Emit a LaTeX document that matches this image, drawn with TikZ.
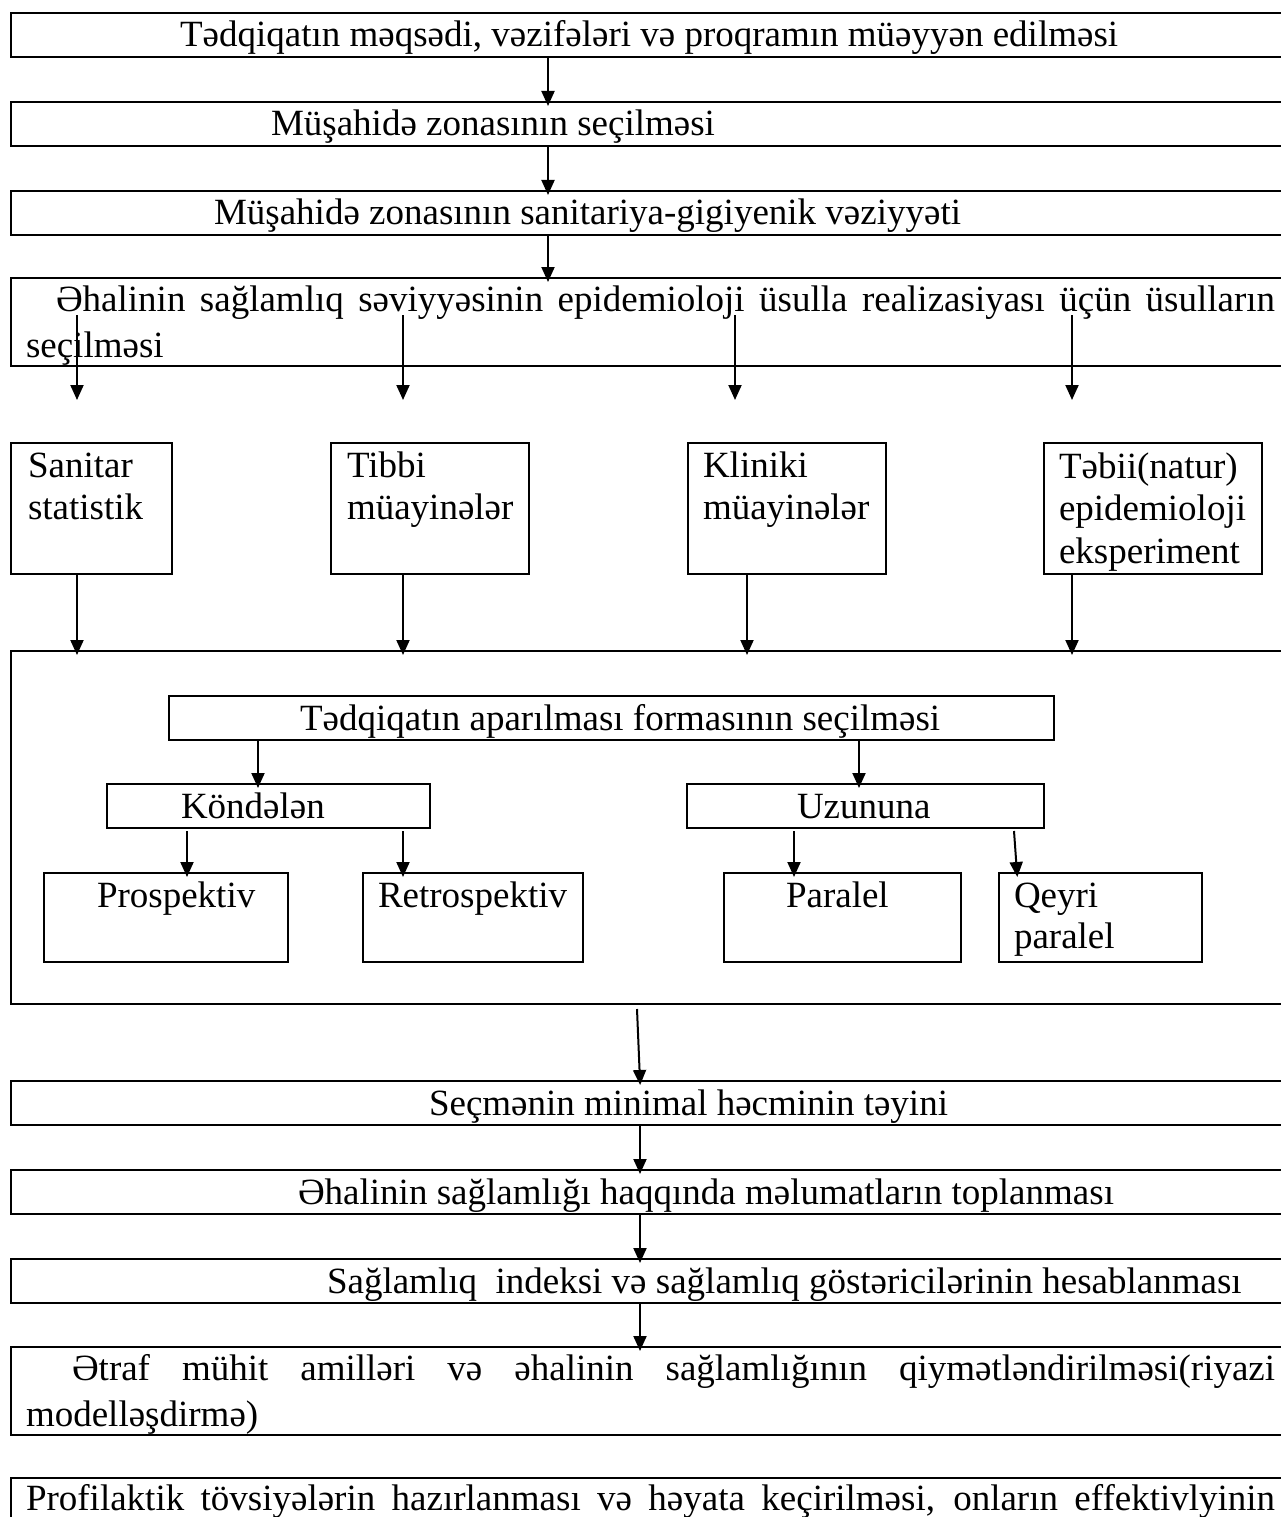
\documentclass[tikz,border=0pt]{standalone}
\usepackage{fontspec}
\setmainfont{Liberation Serif}
\usetikzlibrary{arrows.meta}
\newcommand\txtlines[2][42.5]{\parbox[t]{1260pt}{\fontsize{37}{#1}\selectfont\raggedright #2}}
\begin{document}
\begin{tikzpicture}[x=1pt,y=-1pt, font=\fontsize{37}{42.5}\selectfont,
  box/.style={draw, line width=2.2pt, anchor=north west, inner sep=0pt, outer sep=0pt},
  wide/.style={box, minimum width=1300pt, minimum height=44pt},
  txt/.style={anchor=base west, inner sep=0pt, outer sep=0pt},
  arr/.style={line width=2pt, -{Triangle[length=15pt,width=13pt]}},
  over/.style={shorten >=-4pt}]
\useasboundingbox (0,0) rectangle (1281,1517);
\clip (0,0) rectangle (1281,1517);
\fill[white] (0,0) rectangle (1281,1517);

% x positions of connectors
\coordinate (xm) at (548,0);
\coordinate (c1) at (77,0);
\coordinate (c2) at (403,0);
\coordinate (c3) at (735,0);
\coordinate (c3b) at (747,0);
\coordinate (c4) at (1072,0);
\coordinate (ck) at (258,0);
\coordinate (cu) at (859,0);
\coordinate (cp1) at (187,0);
\coordinate (cp2) at (403,0);
\coordinate (cp3) at (794,0);
\coordinate (cq1) at (1014,0);
\coordinate (cq2) at (1017,0);
\coordinate (cb1) at (637,0);
\coordinate (cb2) at (640,0);

% top chain
\node[wide] (b1) at (11,13) {};
\node[txt] (t1) at (180,47) {Tədqiqatın məqsədi, vəzifələri və proqramın müəyyən edilməsi};
\node[wide] (b2) at (11,102) {};
\node[txt] (t2) at (271,136) {Müşahidə zonasının seçilməsi};
\node[wide] (b3) at (11,191) {};
\node[txt] (t3) at (214,225) {Müşahidə zonasının sanitariya-gigiyenik vəziyyəti};
\node[box, minimum width=1300pt, minimum height=88pt] (b4) at (11,278) {};
\node[txt] (t4) at (26,311) {\txtlines[46]{\hspace*{30pt}\makebox[1219pt][s]{Əhalinin sağlamlıq səviyyəsinin epidemioloji üsulla realizasiyası üçün üsulların}\\seçilməsi}};

% method boxes
\node[box, minimum width=161pt, minimum height=131pt] (r1) at (11,443) {};
\node[txt] (tr1) at (28,477) {\txtlines{Sanitar\\statistik}};
\node[box, minimum width=198pt, minimum height=131pt] (r2) at (331,443) {};
\node[txt] (tr2) at (347,477) {\txtlines{Tibbi\\müayinələr}};
\node[box, minimum width=198pt, minimum height=131pt] (r3) at (688,443) {};
\node[txt] (tr3) at (703,477) {\txtlines{Kliniki\\müayinələr}};
\node[box, minimum width=218pt, minimum height=131pt] (r4) at (1044,443) {};
\node[txt] (tr4) at (1059,478) {\txtlines{Təbii(natur)\\epidemioloji\\eksperiment}};

% big frame
\node[box, minimum width=1300pt, minimum height=353pt] (big) at (11,651) {};
\node[box, minimum width=885pt, minimum height=44pt] (f) at (169,696) {};
\node[txt] (tf) at (300,730) {Tədqiqatın aparılması formasının seçilməsi};
\node[box, minimum width=323pt, minimum height=44pt] (k) at (107,784) {};
\node[txt] (tk) at (181,818) {Köndələn};
\node[box, minimum width=357pt, minimum height=44pt] (u) at (687,784) {};
\node[txt] (tu) at (797,818) {Uzununa};
\node[box, minimum width=244pt, minimum height=89pt] (p1) at (44,873) {};
\node[txt] (tp1) at (97,907) {Prospektiv};
\node[box, minimum width=220pt, minimum height=89pt] (p2) at (363,873) {};
\node[txt] (tp2) at (378,907) {Retrospektiv};
\node[box, minimum width=237pt, minimum height=89pt] (p3) at (724,873) {};
\node[txt] (tp3) at (786,907) {Paralel};
\node[box, minimum width=203pt, minimum height=89pt] (p4) at (999,873) {};
\node[txt] (tp4) at (1014,907) {\txtlines[41]{Qeyri\\paralel}};

% lower chain
\node[wide] (s1) at (11,1081) {};
\node[txt] (ts1) at (429,1115) {Seçmənin minimal həcminin təyini};
\node[wide] (s2) at (11,1170) {};
\node[txt] (ts2) at (298,1204) {Əhalinin sağlamlığı haqqında məlumatların toplanması};
\node[wide] (s3) at (11,1259) {};
\node[txt] (ts3) at (327,1293) {Sağlamlıq~ indeksi və sağlamlıq göstəricilərinin hesablanması};
\node[box, minimum width=1300pt, minimum height=88pt] (s4) at (11,1347) {};
\node[txt] (ts4) at (26,1380) {\txtlines[46]{\hspace*{46pt}\makebox[1203pt][s]{Ətraf mühit amilləri və əhalinin sağlamlığının qiymətləndirilməsi(riyazi}\\modelləşdirmə)}};
\node[box, minimum width=1300pt, minimum height=120pt] (s5) at (11,1478) {};
\node[txt] (ts5) at (26,1510) {\makebox[1249pt][s]{Profilaktik tövsiyələrin hazırlanması və həyata keçirilməsi, onların effektivlyinin}};

% connectors
\draw[arr,over] (b1.south -| xm) -- (b2.north -| xm);
\draw[arr,over] (b2.south -| xm) -- (b3.north -| xm);
\draw[arr,over] (b3.south -| xm) -- (b4.north -| xm);

\draw[arr] ([yshift=51pt]b4.south -| c1) -- ([yshift=43pt]r1.north -| c1);
\draw[arr] ([yshift=51pt]b4.south -| c2) -- ([yshift=43pt]r2.north -| c2);
\draw[arr] ([yshift=51pt]b4.south -| c3) -- ([yshift=43pt]r3.north -| c3);
\draw[arr] ([yshift=51pt]b4.south -| c4) -- ([yshift=43pt]r4.north -| c4);

\draw[arr,over] (r1.south -| c1) -- (big.north -| c1);
\draw[arr,over] (r2.south -| c2) -- (big.north -| c2);
\draw[arr,over] (r3.south -| c3b) -- (big.north -| c3b);
\draw[arr,over] (r4.south -| c4) -- (big.north -| c4);

\draw[arr,over] (f.south -| ck) -- (k.north -| ck);
\draw[arr,over] (f.south -| cu) -- (u.north -| cu);
\draw[arr,over] ([yshift=-3pt]k.south -| cp1) -- (p1.north -| cp1);
\draw[arr,over] ([yshift=-3pt]k.south -| cp2) -- (p2.north -| cp2);
\draw[arr,over] ([yshift=-3pt]u.south -| cp3) -- (p3.north -| cp3);
\draw[arr,over] ([yshift=-3pt]u.south -| cq1) -- (p4.north -| cq2);

\draw[arr,over] ([yshift=-5pt]big.south -| cb1) -- (s1.north -| cb2);
\draw[arr,over] (s1.south -| cb2) -- (s2.north -| cb2);
\draw[arr,over] (s2.south -| cb2) -- (s3.north -| cb2);
\draw[arr,over] (s3.south -| cb2) -- (s4.north -| cb2);
\end{tikzpicture}
\end{document}
